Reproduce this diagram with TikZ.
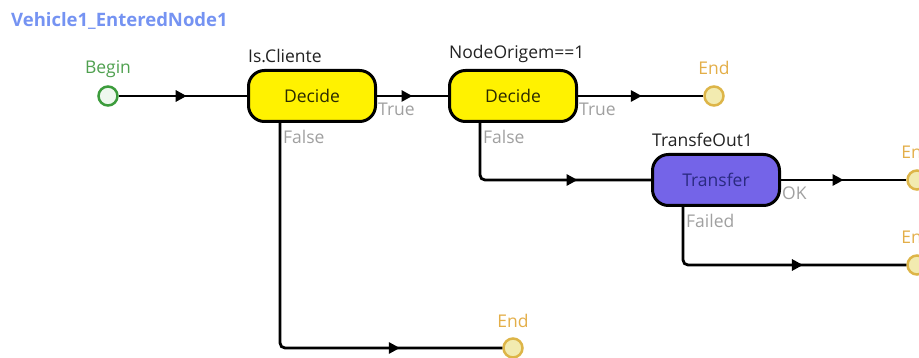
\documentclass[tikz,border=0pt]{standalone}
\usepackage{fontspec}
\setmainfont{Open Sans}
\usetikzlibrary{arrows.meta,decorations.markings}
\definecolor{titleblue}{HTML}{7593F2}
\definecolor{beginstroke}{HTML}{3C9C3C}
\definecolor{beginfill}{HTML}{EEF8EE}
\definecolor{begintext}{HTML}{4FA04F}
\definecolor{endstroke}{HTML}{DDB548}
\definecolor{endfill}{HTML}{F2EBB0}
\definecolor{endtext}{HTML}{E3AE48}
\definecolor{transfill}{HTML}{7464E8}
\definecolor{transtext}{HTML}{2A2A80}
\definecolor{decidetext}{HTML}{2A2A00}
\definecolor{branchgray}{HTML}{A0A0A0}
\definecolor{steptitle}{HTML}{222222}
\begin{document}
\begin{tikzpicture}[x=1pt,y=-1pt,
  font=\fontsize{17.5}{20}\selectfont,
  stepbox/.style={draw=black, line width=3pt, rounded corners=16pt,
    minimum width=127pt, minimum height=51pt, inner sep=0pt},
  decidebox/.style={stepbox, fill=yellow, text=decidetext},
  transbox/.style={stepbox, fill=transfill, text=transtext},
  beginnode/.style={circle, draw=beginstroke, fill=beginfill, line width=2.5pt,
    minimum size=19pt, inner sep=0pt},
  endnode/.style={circle, draw=endstroke, fill=endfill, line width=2.5pt,
    minimum size=19pt, inner sep=0pt},
  flow/.style={draw=black, line width=2.8pt, rounded corners=5pt},
  arrowat/.style={postaction={decorate, decoration={markings,
    mark=at position #1 with {\arrow{Triangle[length=11pt,width=11pt]}}}}},
  branch/.style={text=branchgray, anchor=north west, inner sep=1pt},
  steptitlest/.style={text=steptitle, anchor=south west, inner sep=1pt},
  endlabel/.style={text=endtext, inner sep=0pt},
]
\clip (0,0) rectangle (919,358);
\useasboundingbox (0,0) rectangle (919,358);

\node[text=titleblue, anchor=west, inner sep=0pt, font=\fontsize{18.5}{21}\selectfont\bfseries] (title) at (11,21) {Vehicle1\_EnteredNode1};

% nodes
\node[beginnode] (begin) at (108,96) {};
\node[text=begintext, inner sep=0pt] (beginlbl) at (108,69) {Begin};

\node[decidebox] (d1) at (312,96) {Decide};
\node[steptitlest] (d1t) at ([yshift=5pt]d1.north west) {Is.Cliente};

\node[decidebox] (d2) at (513,96) {Decide};
\node[steptitlest] (d2t) at ([yshift=5pt]d2.north west) {NodeOrigem==1};

\node[endnode] (e1) at (714,96) {};
\node[endlabel] (e1l) at (714,68) {End};

\node[transbox] (tr) at (716,180) {Transfer};
\node[steptitlest] (trt) at ([yshift=5pt]tr.north west) {TransfeOut1};

\node[endnode] (e3) at (917,180) {};
\node[endlabel] (e3l) at (917,152) {End};

\node[endnode] (e4) at (917,265) {};
\node[endlabel] (e4l) at (917,237) {End};

\node[endnode] (e2) at (513,348) {};
\node[endlabel] (e2l) at (513,321) {End};

% connectors
\draw[flow, arrowat=0.53] (begin) -- (d1);
\draw[flow, arrowat=0.5] (d1) -- (d2);
\draw[flow, arrowat=0.51] (d2) -- (e1);
\draw[flow, arrowat=0.5] (tr) -- (e3);
\draw[flow, arrowat=0.77] ([xshift=-32pt]d1.south) |- (e2);
\draw[flow, arrowat=0.675] ([xshift=-33pt]d2.south) |- (tr.west);
\draw[flow, arrowat=0.63] ([xshift=-33pt]tr.south) |- (e4);

% branch labels
\node[branch] (d1true) at ([yshift=-6pt]d1.east) {True};
\node[branch] (d2true) at ([yshift=-6pt]d2.east) {True};
\node[branch] (d1false) at ([xshift=-30pt,yshift=-6pt]d1.south) {False};
\node[branch] (d2false) at ([xshift=-31pt,yshift=-6pt]d2.south) {False};
\node[branch] (trok) at ([yshift=-6pt]tr.east) {OK};
\node[branch] (trfail) at ([xshift=-31pt,yshift=-6pt]tr.south) {Failed};
\end{tikzpicture}
\end{document}
